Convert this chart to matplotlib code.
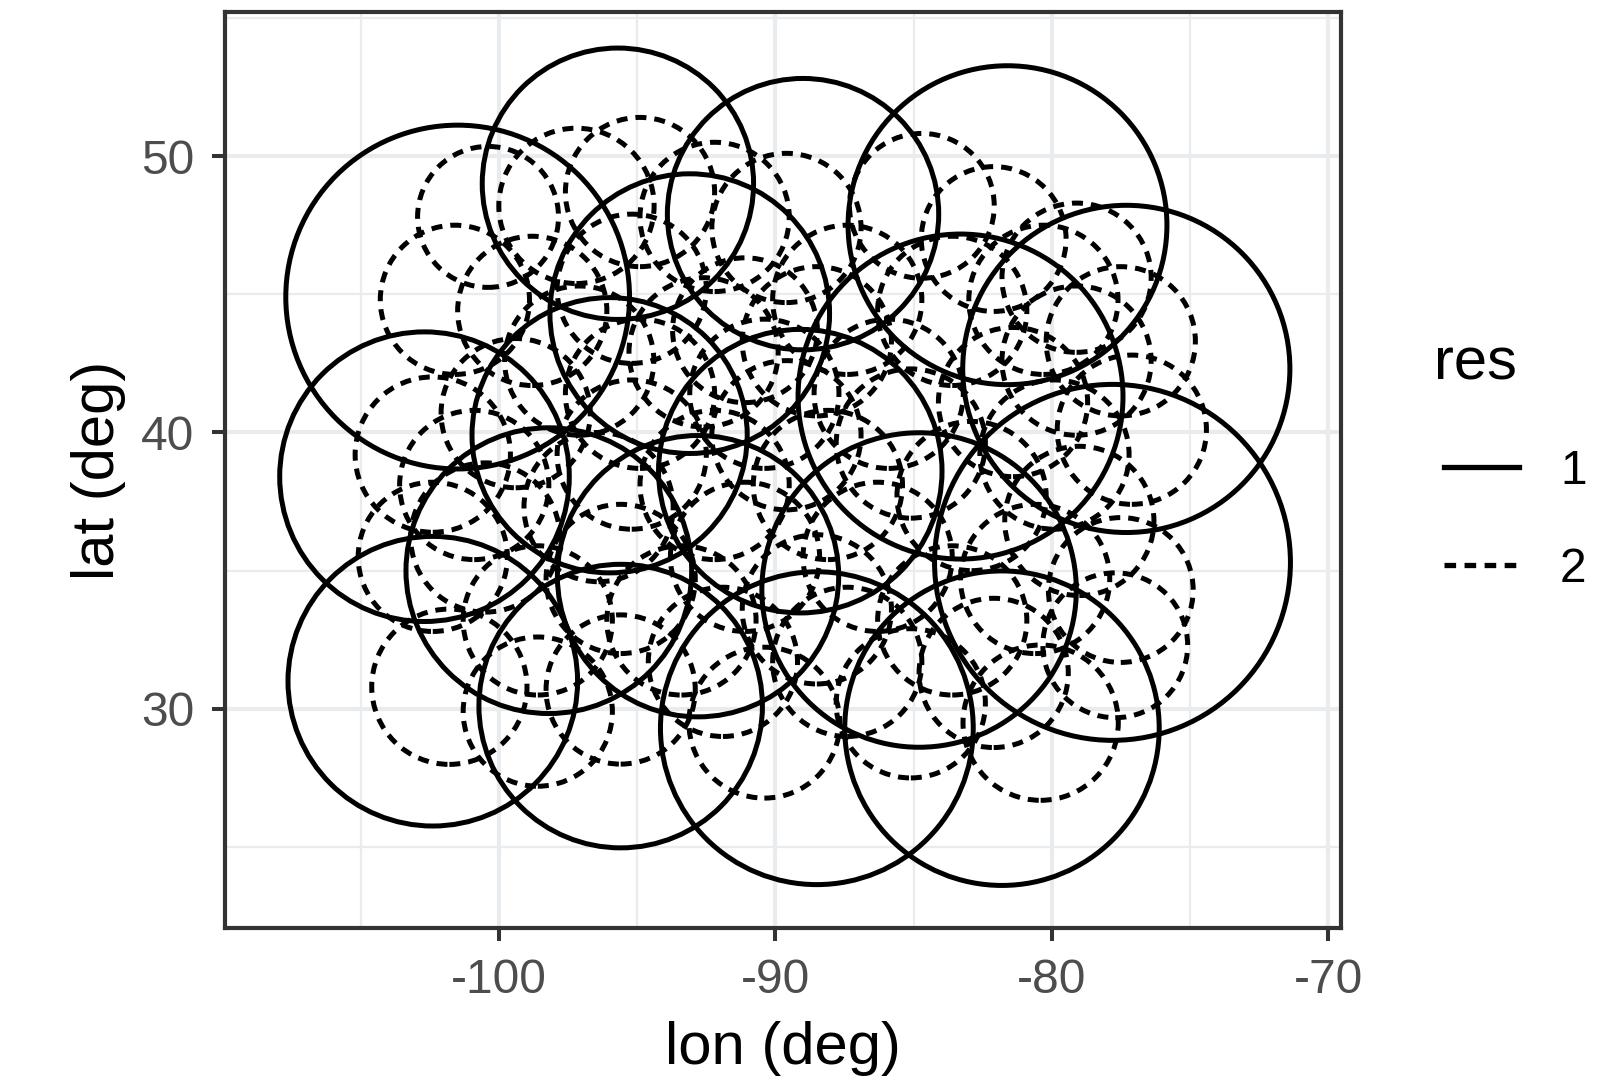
import matplotlib

matplotlib.use("Agg")
import matplotlib.pyplot as plt
from matplotlib.lines import Line2D
from matplotlib.patches import Circle

plt.rcParams["font.family"] = ["Liberation Sans", "DejaVu Sans"]

# res 1 cells (solid): centre lon, centre lat, radius (deg)
res1_lon = [-101.5, -95.7, -89.0, -81.6, -77.3, -83.3, -93.1, -96.0, -102.7,
            -89.1, -77.8, -98.2, -92.8, -84.8, -102.4, -95.6, -88.5, -81.8]
res1_lat = [44.9, 49.0, 47.9, 47.5, 42.3, 41.3, 44.3, 39.9, 38.4,
            38.6, 35.3, 35.0, 34.8, 34.3, 31.0, 30.1, 29.3, 29.3]
res1_r = [6.22, 4.91, 4.91, 5.77, 5.92, 5.88, 5.06, 4.98, 5.24,
          5.13, 6.44, 5.17, 5.09, 5.69, 5.24, 5.13, 5.66, 5.69]

# res 2 cells (dashed)
res2_lon = [-100.4, -101.6, -97.2, -94.9, -92.2, -89.6, -84.7, -82.1, -77.5,
            -77.1, -79.0, -77.5, -77.7, -80.4, -85.1, -90.4, -95.6, -98.6,
            -101.8, -102.4, -98.8, -95.2, -91.1, -87.4, -83.6, -80.3, -99.4,
            -94.9, -90.4, -85.9, -81.4, -100.5, -96.4, -92.2, -88.1, -82.9,
            -98.6, -93.4, -88.5, -83.6, -80.6, -102.4,
            -97.1, -92.6, -88.5, -79.1, -100.9, -95.2, -89.6, -85.1, -79.9,
            -91.1, -86.3, -95.6, -91.9, -87.4, -82.1, -79.1]
res2_lat = [47.8, 44.8, 48.2, 48.7, 47.8, 47.4, 48.2, 47.0, 43.3,
            40.1, 36.8, 34.3, 32.3, 29.5, 30.2, 29.5, 30.7, 29.9,
            30.8, 39.2, 44.4, 45.2, 43.7, 44.8, 44.4, 44.8, 40.7,
            41.4, 41.4, 41.4, 41.1, 36.2, 37.3, 38.1, 38.1, 37.7,
            33.2, 33.2, 33.6, 33.2, 34.7, 35.5,
            42.6, 42.9, 43.3, 42.6, 38.1, 39.2, 39.9, 39.6, 39.2,
            35.5, 35.5, 34.7, 31.7, 31.7, 31.3, 45.6]
res2_r = [2.55, 2.70, 2.81, 2.70, 2.70, 2.70, 2.62, 2.62, 2.70,
          2.70, 2.70, 2.62, 2.62, 2.81, 2.70, 2.73, 2.70, 2.70,
          2.81, 2.81, 2.70, 2.70, 2.62, 2.70, 2.70, 2.70, 2.70,
          2.70, 2.70, 2.70, 2.70, 2.70, 2.70, 2.70, 2.70, 2.70,
          2.70, 2.70, 2.70, 2.70, 2.70, 2.70,
          2.70, 2.70, 2.70, 2.70, 2.70, 2.70, 2.70, 2.70, 2.70,
          2.70, 2.70, 2.70, 2.70, 2.70, 2.70, 2.70]

x_ticks = [-100, -90, -80, -70]
x_minor = [-105, -95, -85, -75]
y_ticks = [30, 40, 50]
y_minor = [25, 35, 45, 55]

LW = 3.6  # line width of the circles (pt)
DASH = (0, (2.2, 1.6))
GRID = "#E9ECEE"
DARK = "#333333"

fig = plt.figure(figsize=(16.2, 10.86), dpi=100)
ax = fig.add_axes([225 / 1620, 1 - 928 / 1086, 1116 / 1620, 915.6 / 1086])
ax.set_xlim(-109.92, -69.53)
ax.set_ylim(22.07, 55.2)

# grid lines like theme_bw
for v in x_minor:
    ax.axvline(v, color=GRID, lw=1.6, zorder=0)
for v in y_minor:
    ax.axhline(v, color=GRID, lw=1.6, zorder=0)
for v in x_ticks:
    ax.axvline(v, color=GRID, lw=3.0, zorder=0)
for v in y_ticks:
    ax.axhline(v, color=GRID, lw=3.0, zorder=0)

# the cells
for lo, la, r in zip(res1_lon, res1_lat, res1_r):
    ax.add_patch(Circle((lo, la), r, fill=False, ec="black", lw=LW, zorder=3))
for lo, la, r in zip(res2_lon, res2_lat, res2_r):
    ax.add_patch(Circle((lo, la), r, fill=False, ec="black", lw=LW,
                        linestyle=DASH, capstyle="butt", zorder=2))

ax.set_xticks(x_ticks)
ax.set_yticks(y_ticks)
ax.set_xticklabels([str(t) for t in x_ticks])
ax.set_yticklabels([str(t) for t in y_ticks])
ax.tick_params(length=9.4, width=2.9, color=DARK, labelcolor="#4D4D4D",
               labelsize=34.5, pad=12.5)
for s in ax.spines.values():
    s.set_color(DARK)
    s.set_linewidth(3)

# axis titles
fig.text(783 / 1620, 1 - 1064 / 1086, "lon (deg)", fontsize=43,
         ha="center", va="baseline")
fig.text(114 / 1620, 1 - 470 / 1086, "lat (deg)", fontsize=43, rotation=90,
         rotation_mode="anchor", ha="center", va="baseline")

# legend drawn by hand
fig.text(1434 / 1620, 1 - 380 / 1086, "res", fontsize=43, va="baseline")
fig.add_artist(Line2D([1444 / 1620, 1519 / 1620], [1 - 467 / 1086] * 2,
                      color="black", lw=3.8))
fig.add_artist(Line2D([1444 / 1620, 1519 / 1620], [1 - 565 / 1086] * 2,
                      color="black", lw=3.8, linestyle=DASH, dash_capstyle="butt"))
fig.text(1560 / 1620, 1 - 467 / 1086, "1", fontsize=34.5, va="center_baseline")
fig.text(1560 / 1620, 1 - 565 / 1086, "2", fontsize=34.5, va="center_baseline")

fig.savefig("out.png", dpi=100)
